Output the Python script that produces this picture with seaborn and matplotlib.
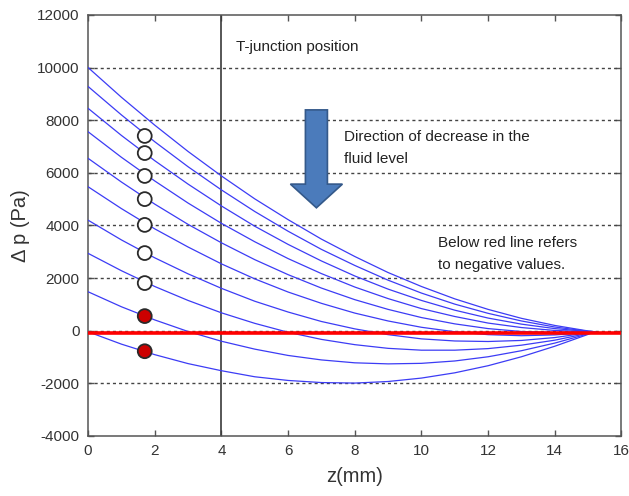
import numpy as np
import pandas as pd
import matplotlib
matplotlib.use("Agg")
import matplotlib.pyplot as plt
from matplotlib.patches import FancyArrow
import seaborn as sns

# axial position (mm)
z_mm = [0, 1, 2, 3, 4, 5, 6, 7, 8, 9, 10, 11, 12, 13, 14, 15, 15.2]

# pressure difference curves (Pa), top to bottom
dp_curve1 = [10000, 8870, 7810, 6810, 5880, 5010, 4220, 3480, 2820, 2210, 1680, 1210, 810, 470, 200, -10, -40]
dp_curve2 = [9280, 8200, 7180, 6230, 5350, 4530, 3780, 3090, 2480, 1920, 1430, 1010, 660, 370, 140, -20, -40]
dp_curve3 = [8450, 7420, 6460, 5570, 4740, 3970, 3280, 2650, 2080, 1580, 1150, 780, 480, 250, 80, -30, -40]
dp_curve4 = [7560, 6590, 5690, 4850, 4080, 3380, 2740, 2170, 1660, 1220, 840, 540, 290, 120, 10, -40, -40]
dp_curve5 = [6550, 5650, 4810, 4040, 3340, 2700, 2130, 1620, 1180, 810, 500, 260, 80, -30, -70, -50, -40]
dp_curve6 = [5470, 4640, 3870, 3180, 2540, 1970, 1470, 1040, 670, 370, 130, -40, -150, -190, -160, -70, -40]
dp_curve7 = [4200, 3450, 2770, 2160, 1610, 1120, 710, 350, 70, -150, -310, -390, -410, -370, -260, -80, -40]
dp_curve8 = [2940, 2280, 1680, 1150, 680, 280, -60, -330, -530, -670, -740, -740, -680, -550, -360, -100, -40]
dp_curve9 = [1480, 910, 410, -30, -400, -700, -940, -1110, -1220, -1260, -1240, -1150, -990, -760, -470, -120, -40]
dp_curve10 = [-40, -510, -910, -1250, -1520, -1750, -1890, -1970, -1990, -1930, -1800, -1600, -1330, -990, -590, -140, -40]

# fluid level markers at z ~ 1.7 mm
marker_z = [1.7] * 9
marker_dp = [7400, 6750, 5880, 5000, 4020, 2950, 1810, 555, -780]
marker_kind = ["pos"] * 7 + ["neg"] * 2

y_ticks = [-4000, -2000, 0, 2000, 4000, 6000, 8000, 10000, 12000]
x_ticks = [0, 2, 4, 6, 8, 10, 12, 14, 16]

curves = [dp_curve1, dp_curve2, dp_curve3, dp_curve4, dp_curve5,
          dp_curve6, dp_curve7, dp_curve8, dp_curve9, dp_curve10]
rows = []
for i, c in enumerate(curves):
    for z, p in zip(z_mm, c):
        rows.append({"z": z, "dp": p, "curve": f"c{i + 1}"})
df = pd.DataFrame(rows)
markers = pd.DataFrame({"z": marker_z, "dp": marker_dp, "kind": marker_kind})

sns.set_theme(style="white")
plt.rcParams["font.family"] = ["Liberation Sans", "DejaVu Sans"]
plt.rcParams["axes.unicode_minus"] = False

fig = plt.figure(figsize=(6.29, 4.96), dpi=100)
ax = fig.add_axes([0.14, 0.121, 0.848, 0.849])

# dashed horizontal grid
for yt in y_ticks[1:-1]:
    ax.axhline(yt, color="#444444", lw=1.0, ls=(0, (2.2, 2.2)), zorder=1)

sns.lineplot(data=df, x="z", y="dp", hue="curve",
             palette=["#3c3cf5"] * 10, lw=0.9, legend=False, ax=ax,
             estimator=None, sort=False, zorder=3)

# zero reference line and T-junction marker
ax.axhline(-70, color="#ff0000", lw=2.6, zorder=4)
ax.axvline(4, color="#3a3a3a", lw=1.2, zorder=2)

sns.scatterplot(data=markers, x="z", y="dp", hue="kind",
                palette={"pos": "white", "neg": "#cc0000"},
                s=100, edgecolor="#2a2a2a", linewidth=1.3,
                legend=False, ax=ax, zorder=5)

arrow = FancyArrow(6.85, 8390, 0, -3720, width=0.66, head_width=1.56,
                   head_length=900, length_includes_head=True,
                   facecolor="#4b7bbb", edgecolor="#34598a", lw=1.2, zorder=6)
ax.add_patch(arrow)

ax.text(4.44, 10780, "T-junction position", fontsize=11, color="#222222",
        va="center", ha="left")
ax.text(7.69, 7360, "Direction of decrease in the", fontsize=11,
        color="#222222", va="center", ha="left")
ax.text(7.69, 6525, "fluid level", fontsize=11, color="#222222",
        va="center", ha="left")
ax.text(10.51, 3330, "Below red line refers", fontsize=11, color="#222222",
        va="center", ha="left")
ax.text(10.51, 2494, "to negative values.", fontsize=11, color="#222222",
        va="center", ha="left")

ax.set_xlim(0, 16)
ax.set_ylim(-4000, 12000)
ax.set_xticks(x_ticks)
ax.set_yticks(y_ticks)
ax.tick_params(direction="in", length=4, width=1, colors="#555555",
               labelcolor="#333333", labelsize=11, top=True, right=True,
               left=True, bottom=True, pad=6)
for s in ax.spines.values():
    s.set_color("#555555")
    s.set_linewidth(1.1)

ax.set_xlabel("z(mm)", fontsize=14.5, color="#333333", labelpad=6)
ax.set_ylabel("\u0394 p (Pa)", fontsize=14.5, color="#333333", labelpad=5)

fig.savefig("out.png", dpi=100)
